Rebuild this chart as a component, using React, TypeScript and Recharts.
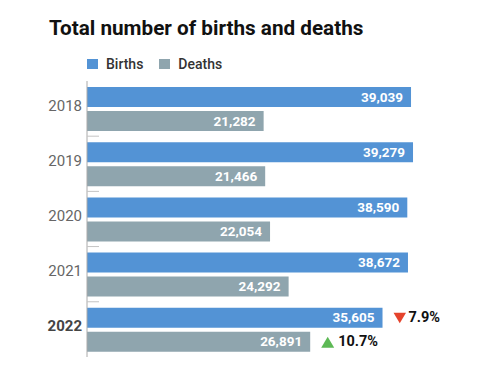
import React from "react";
import { BarChart, Bar, XAxis, YAxis, LabelList } from "recharts";

const years = ["2018", "2019", "2020", "2021", "2022"];
const births = [39039, 39279, 38590, 38672, 35605];
const deaths = [21282, 21466, 22054, 24292, 26891];
const birthsChange: (number | null)[] = [null, null, null, null, -7.9];
const deathsChange: (number | null)[] = [null, null, null, null, 10.7];

const data = years.map((y, i) => ({
  year: y,
  births: births[i],
  deaths: deaths[i],
  birthsChange: birthsChange[i],
  deathsChange: deathsChange[i],
}));

const BLUE = "#5393d5";
const GREY = "#8fa5ae";
const FONT = "Roboto, 'Noto Sans', sans-serif";

const fmt = (v: number) => v.toLocaleString("en-US");

const YearTick = (props: any) => {
  const { y, payload, index } = props;
  const band = 55.25;
  const last = payload.value === years[years.length - 1];
  return (
    <g>
      {index > 0 && (
        <line x1={87} x2={99} y1={y - band / 2} y2={y - band / 2} stroke="#c4c4c4" strokeWidth={1} />
      )}
      <text
        x={82}
        y={y - 2}
        textAnchor="end"
        dominantBaseline="middle"
        fontFamily={FONT}
        fontSize={15}
        fontWeight={last ? 700 : 400}
        fill={last ? "#444" : "#666"}
      >
        {payload.value}
      </text>
    </g>
  );
};

const makeChangeLabel = (changes: (number | null)[]) => (props: any) => {
  const { x, y, width, height, index } = props;
  const c = changes[index];
  if (c == null) return null;
  const cx = x + width + 11;
  const cy = y + height / 2;
  const down = c < 0;
  const tri = down
    ? `${cx},${cy - 5} ${cx + 12.5},${cy - 5} ${cx + 6.25},${cy + 5.5}`
    : `${cx + 6.5},${cy - 5} ${cx + 13},${cy + 6} ${cx},${cy + 6}`;
  return (
    <g>
      <polygon points={tri} fill={down ? "#e5432c" : "#5db955"} />
      <text
        x={cx + (down ? 15 : 17)}
        y={cy}
        dominantBaseline="middle"
        fontFamily={FONT}
        fontSize={14.5}
        fontWeight={700}
        fill="#111"
      >
        {Math.abs(c).toFixed(1)}%
      </text>
    </g>
  );
};

const ValueLabel = (props: any) => {
  const { x, y, width, height, value } = props;
  return (
    <text
      x={x + width - 8}
      y={y + height / 2 + 1}
      textAnchor="end"
      dominantBaseline="middle"
      fontFamily={FONT}
      fontSize={13.5}
      fontWeight={700}
      fill="#fff"
    >
      {fmt(value)}
    </text>
  );
};

const Legend = () => (
  <div
    style={{
      position: "absolute",
      left: 87,
      top: 56,
      display: "flex",
      alignItems: "center",
      fontFamily: FONT,
      fontSize: 14,
      fontWeight: 500,
      color: "#333",
    }}
  >
    <span style={{ width: 11, height: 10, background: BLUE, display: "inline-block", marginRight: 8 }} />
    <span style={{ marginRight: 16 }}>Births</span>
    <span style={{ width: 11, height: 10, background: GREY, display: "inline-block", marginRight: 8 }} />
    <span>Deaths</span>
  </div>
);

export default function App() {
  return (
    <div style={{ position: "absolute", left: 0, top: 0, width: 500, height: 391, background: "#fff" }}>
      <div
        style={{
          position: "absolute",
          left: 49,
          top: 15,
          fontFamily: FONT,
          fontSize: 20.7,
          fontWeight: 700,
          color: "#111",
          whiteSpace: "nowrap",
          lineHeight: "26px",
        }}
      >
        Total number of births and deaths
      </div>
      <Legend />
      <div style={{ position: "absolute", left: 0, top: 0 }}>
        <BarChart
          width={500}
          height={391}
          data={data}
          layout="vertical"
          margin={{ top: 81, right: 81, bottom: 34, left: 0 }}
          barSize={20}
          barGap={4}
        >
          <XAxis type="number" domain={[0, 40000]} hide />
          <YAxis
            type="category"
            dataKey="year"
            width={87}
            axisLine={{ stroke: "#aaa" }}
            tickLine={false}
            tick={<YearTick />}
            interval={0}
          />
          <Bar dataKey="births" fill={BLUE} isAnimationActive={false}>
            <LabelList dataKey="births" content={<ValueLabel />} />
            <LabelList dataKey="births" content={makeChangeLabel(birthsChange)} />
          </Bar>
          <Bar dataKey="deaths" fill={GREY} isAnimationActive={false}>
            <LabelList dataKey="deaths" content={<ValueLabel />} />
            <LabelList dataKey="deaths" content={makeChangeLabel(deathsChange)} />
          </Bar>
        </BarChart>
      </div>
    </div>
  );
}
